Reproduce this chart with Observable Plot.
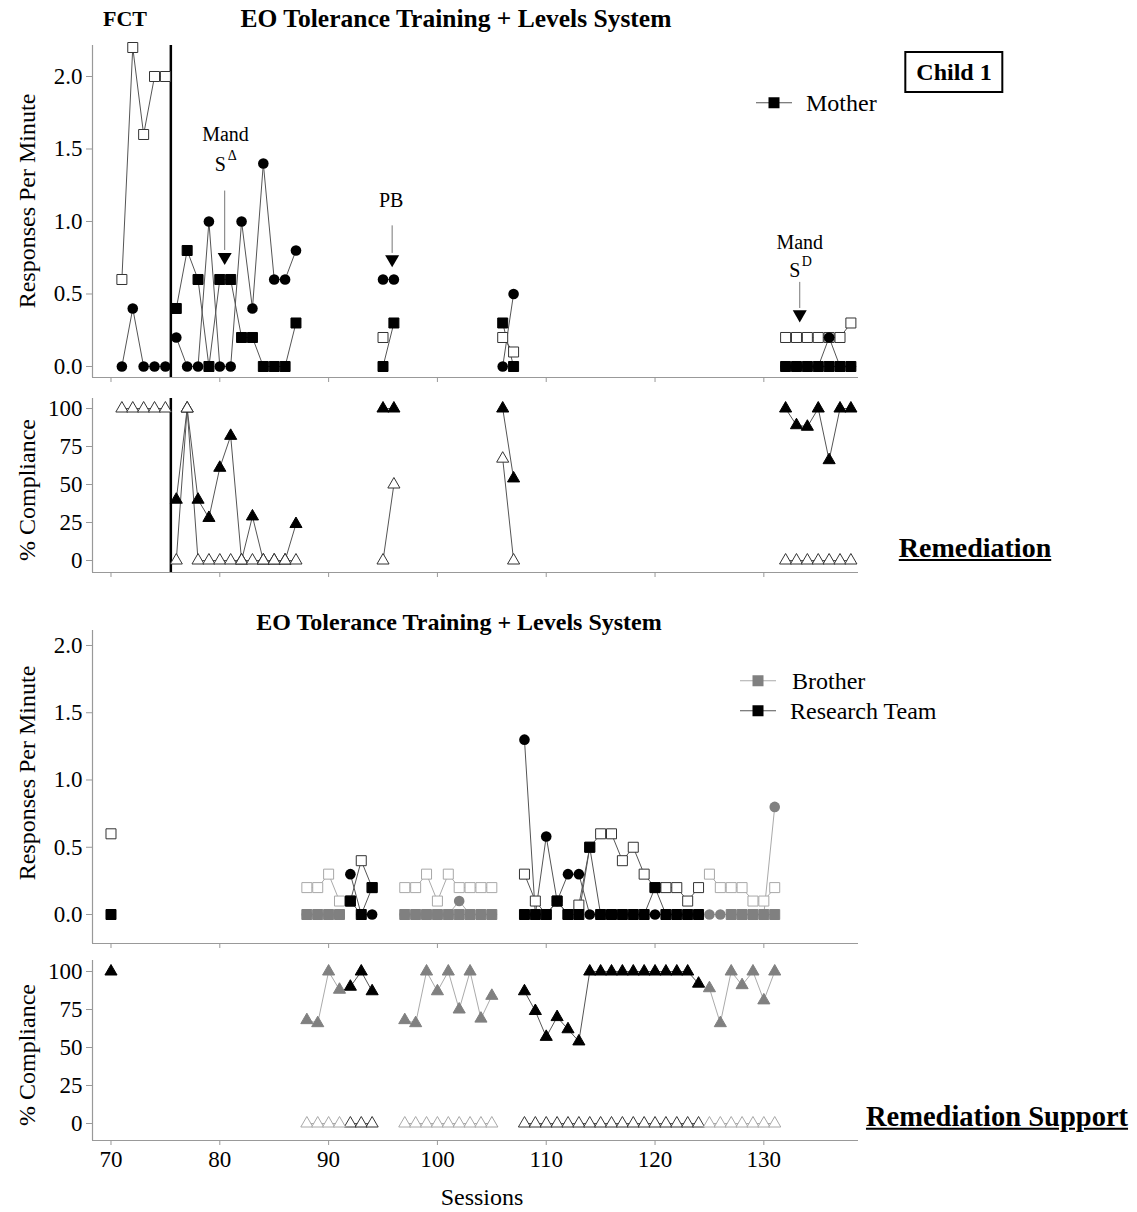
<!DOCTYPE html>
<html><head><meta charset="utf-8">
<script src="https://cdn.jsdelivr.net/npm/d3@7"></script>
<script src="https://cdn.jsdelivr.net/npm/@observablehq/plot@0.6"></script>
<style>
body{margin:0;background:#fff;}
#root{position:relative;width:1137px;height:1212px;overflow:hidden;font-family:"Liberation Serif","Times New Roman",serif;color:#000;background:#fff;}
.lbl{position:absolute;white-space:nowrap;line-height:1;}
.panel{position:absolute;left:0;}
</style></head><body><div id="root"></div>
<script>
// ---------------- DATA ----------------
const sessionTicks = [70, 80, 90, 100, 110, 120, 130];
const rateTicks = [0, 0.5, 1, 1.5, 2];
const complianceTicks = [0, 25, 50, 75, 100];

// Child 1 with Mother: FCT baseline
const fctSessions = [71, 72, 73, 74, 75];
const fctOpenSquares = [0.6, 2.2, 1.6, 2.0, 2.0];
const fctCircles = [0, 0.4, 0, 0, 0];
const fctOpenTriangles = [100, 100, 100, 100, 100];

// Child 1 with Mother: EO tolerance training blocks
const motherBlockStarts = [76, 95, 106, 132];
const motherFilledSquares = [[0.4, 0.8, 0.6, 0, 0.6, 0.6, 0.2, 0.2, 0, 0, 0, 0.3], [0, 0.3], [0.3, 0], [0, 0, 0, 0, 0, 0, 0]];
const motherCircles = [[0.2, 0, 0, 1.0, 0, 0, 1.0, 0.4, 1.4, 0.6, 0.6, 0.8], [0.6, 0.6], [0, 0.5], [0, 0, 0, 0, 0.2, 0, 0]];
const motherOpenSquares = [[], [0.2], [0.2, 0.1], [0.2, 0.2, 0.2, 0.2, 0.2, 0.2, 0.3]];
const motherFilledTriangles = [[40, 100, 40, 28, 61, 82, 0, 29, 0, 0, 0, 24], [100, 100], [100, 54], [100, 89, 88, 100, 66, 100, 100]];
const motherOpenTriangles = [[0, 100, 0, 0, 0, 0, 0, 0, 0, 0, 0, 0], [0, 50], [67, 0], [0, 0, 0, 0, 0, 0, 0]];

// Remediation support: Brother / Research Team
const supportBlockStarts = [70, 88, 92, 97, 108, 125];
const supportBlockAgent = ["Research Team", "Brother", "Research Team", "Brother", "Research Team", "Brother"];
const supportFilledSquares = [[0], [0, 0, 0, 0], [0.1, 0, 0.2], [0, 0, 0, 0, 0, 0, 0, 0, 0],
  [0, 0, 0, 0.1, 0, 0, 0.5, 0, 0, 0, 0, 0, 0.2, 0, 0, 0, 0], [null, null, 0, 0, 0, 0, 0]];
const supportCircles = [[], [0, 0, 0, 0], [0.3, 0, 0], [0, 0, 0, 0, 0, 0.1, 0, 0, 0],
  [1.3, 0, 0.58, 0.1, 0.3, 0.3, 0, 0, 0, 0, 0, 0, 0, 0, 0, 0, 0], [0, 0, 0, 0, 0, 0, 0.8]];
const supportOpenSquares = [[0.6], [0.2, 0.2, 0.3, 0.1], [0.1, 0.4, 0.2], [0.2, 0.2, 0.3, 0.1, 0.3, 0.2, 0.2, 0.2, 0.2],
  [0.3, 0.1, 0, 0.1, 0, 0.07, 0.5, 0.6, 0.6, 0.4, 0.5, 0.3, 0.2, 0.2, 0.2, 0.1, 0.2], [0.3, 0.2, 0.2, 0.2, 0.1, 0.1, 0.2]];
const supportFilledTriangles = [[100], [68, 66, 100, 88], [90, 100, 87], [68, 66, 100, 87, 100, 75, 100, 69, 84],
  [87, 74, 57, 70, 62, 54, 100, 100, 100, 100, 100, 100, 100, 100, 100, 100, 92], [89, 66, 100, 91, 100, 81, 100]];
const supportOpenTriangles = [[], [0, 0, 0, 0], [0, 0, 0], [0, 0, 0, 0, 0, 0, 0, 0, 0],
  [0, 0, 0, 0, 0, 0, 0, 0, 0, 0, 0, 0, 0, 0, 0, 0, 0], [0, 0, 0, 0, 0, 0, 0]];

// ---------------- HELPERS ----------------
function fromBlocks(starts, blocks, agents) {
  const out = [];
  blocks.forEach((vals, b) => vals.forEach((v, i) => out.push({s: starts[b] + i, v, block: b, agent: agents ? agents[b] : "Mother"})));
  return out;
}
const fromList = (sessions, vals) => sessions.map((s, i) => ({s, v: vals[i], block: -1, agent: "Mother"}));

const FONT = "Liberation Serif, Times New Roman, serif";
const XDOM = [68.3, 138.7];
const ML = 92, MR = 1137 - 858;
const SQ = 5.64, CI = 5.3, TR = 4.5;
const COL = {
  "Mother": {fill: "#000", open: "#333", line: "#555"},
  "Research Team": {fill: "#000", open: "#333", line: "#555"},
  "Brother": {fill: "#808080", open: "#a8a8a8", line: "#aaa"}
};

const root = document.getElementById("root");

function panel({top, height, mt, mb, ydom, yticks, yfmt, xlabels, marks}) {
  const chart = Plot.plot({
    width: 1137, height,
    marginLeft: ML, marginRight: MR, marginTop: mt, marginBottom: mb,
    x: {domain: XDOM},
    y: {domain: ydom},
    style: {background: "transparent", fontFamily: FONT, fontSize: "23px", overflow: "visible"},
    marks: [
      Plot.ruleX([XDOM[0]], {stroke: "#999", strokeWidth: 1.2}),
      Plot.ruleY([ydom[0]], {stroke: "#999", strokeWidth: 1.2}),
      Plot.axisY({ticks: yticks, tickFormat: yfmt, tickSize: 6, tickPadding: 4, stroke: "#999", label: null, fontSize: 23}),
      Plot.axisX({ticks: sessionTicks, tickFormat: xlabels ? (d => String(d)) : (() => ""), tickSize: 5, tickPadding: 5, stroke: "#999", label: null, fontSize: 23}),
      ...marks
    ]
  });
  chart.classList.add("panel");
  chart.style.top = top + "px";
  root.appendChild(chart);
  return chart;
}

function seriesLines(data) {
  const out = [];
  for (const agent of Object.keys(COL)) {
    const d = data.filter(p => p.agent === agent);
    if (d.length) out.push(Plot.line(d, {x: "s", y: "v", z: "block", stroke: COL[agent].line, strokeWidth: 1}));
  }
  return out;
}
function seriesDots(data, symbol, r, filled) {
  const out = [];
  for (const agent of Object.keys(COL)) {
    const d = data.filter(p => p.agent === agent && p.v != null);
    if (!d.length) continue;
    out.push(Plot.dot(d, {x: "s", y: "v", symbol, r,
      fill: filled ? COL[agent].fill : "white",
      stroke: filled ? COL[agent].fill : COL[agent].open,
      strokeWidth: filled ? (symbol === "circle" ? 0 : 1) : 1}));
  }
  return out;
}

// ---------------- PANEL 1 : Mother rate ----------------
const p1Open = [...fromList(fctSessions, fctOpenSquares), ...fromBlocks(motherBlockStarts, motherOpenSquares)];
const p1Circ = [...fromList(fctSessions, fctCircles), ...fromBlocks(motherBlockStarts, motherCircles)];
const p1Fill = fromBlocks(motherBlockStarts, motherFilledSquares);
const annot = (s, v, t, o = {}) => Plot.text([{s, v, t}], {x: "s", y: "v", text: "t", fontSize: 20, fontFamily: FONT, ...o});
const arrow = (s, vTop, vBot, vHead) => [
  Plot.ruleX([{s}], {x: "s", y1: vTop, y2: vBot, stroke: "#777", strokeWidth: 1}),
  Plot.dot([{s, v: vHead}], {x: "s", y: "v", symbol: "triangle", rotate: 180, r: 5.2, fill: "#000"})
];
panel({top: 0, height: 392, mt: 45, mb: 15, ydom: [-0.0759, 2.2138], yticks: rateTicks, yfmt: d3.format(".1f"), xlabels: false,
  marks: [
    Plot.ruleX([75.5], {stroke: "#000", strokeWidth: 2.5}),
    ...seriesLines(p1Open), ...seriesLines(p1Circ), ...seriesLines(p1Fill),
    ...seriesDots(p1Open, "square", SQ, false),
    ...seriesDots(p1Circ, "circle", CI, true),
    ...seriesDots(p1Fill, "square", SQ, true),
    annot(80.52, 1.60, "Mand"), annot(80.05, 1.39, "S"), annot(80.05, 1.39, "Δ", {fontSize: 14, dx: 12, dy: -9}),
    ...arrow(80.45, 1.21, 0.8, 0.755),
    annot(95.75, 1.145, "PB"),
    ...arrow(95.84, 0.97, 0.78, 0.74),
    annot(133.3, 0.857, "Mand"), annot(132.85, 0.66, "S"), annot(132.85, 0.66, "D", {fontSize: 14, dx: 12, dy: -9}),
    ...arrow(133.3, 0.58, 0.4, 0.36)
  ]});

// ---------------- PANEL 2 : Mother compliance ----------------
const p2Open = [...fromList(fctSessions, fctOpenTriangles), ...fromBlocks(motherBlockStarts, motherOpenTriangles)];
const p2Fill = fromBlocks(motherBlockStarts, motherFilledTriangles);
panel({top: 392, height: 200, mt: 6, mb: 20, ydom: [-7.89, 106.58], yticks: complianceTicks, yfmt: d3.format("d"), xlabels: false,
  marks: [
    Plot.ruleX([75.5], {stroke: "#000", strokeWidth: 2.5}),
    ...seriesLines(p2Fill), ...seriesLines(p2Open),
    ...seriesDots(p2Fill, "triangle", TR, true),
    ...seriesDots(p2Open, "triangle", TR, false)
  ]});

// ---------------- PANEL 3 : Support rate ----------------
const p3Open = fromBlocks(supportBlockStarts, supportOpenSquares, supportBlockAgent);
const p3Circ = fromBlocks(supportBlockStarts, supportCircles, supportBlockAgent);
const p3Fill = fromBlocks(supportBlockStarts, supportFilledSquares, supportBlockAgent);
panel({top: 592, height: 360, mt: 38, mb: 9, ydom: [-0.2156, 2.1115], yticks: rateTicks, yfmt: d3.format(".1f"), xlabels: false,
  marks: [
    ...seriesLines(p3Open), ...seriesLines(p3Circ), ...seriesLines(p3Fill),
    ...seriesDots(p3Open, "square", SQ, false),
    ...seriesDots(p3Circ, "circle", CI, true),
    ...seriesDots(p3Fill, "square", SQ, true)
  ]});

// ---------------- PANEL 4 : Support compliance ----------------
const p4Open = fromBlocks(supportBlockStarts, supportOpenTriangles, supportBlockAgent);
const p4Fill = fromBlocks(supportBlockStarts, supportFilledTriangles, supportBlockAgent);
panel({top: 952, height: 260, mt: 8, mb: 72, ydom: [-11.18, 107.24], yticks: complianceTicks, yfmt: d3.format("d"), xlabels: true,
  marks: [
    ...seriesLines(p4Fill), ...seriesLines(p4Open),
    ...seriesDots(p4Fill, "triangle", TR, true),
    ...seriesDots(p4Open, "triangle", TR, false)
  ]});

// ---------------- TEXT ----------------
function label(html, x, y, css = "", anchor = "middle") {
  const d = document.createElement("div");
  d.className = "lbl";
  d.innerHTML = html;
  d.style.left = x + "px";
  d.style.top = y + "px";
  const tx = anchor === "start" ? "0" : anchor === "end" ? "-100%" : "-50%";
  d.style.transform = `translate(${tx},-50%)`;
  d.style.cssText += css;
  root.appendChild(d);
  return d;
}
function vlabel(text, x, y) {
  const d = label(text, x, y, "font-size:24px;");
  d.style.transform = "translate(-50%,-50%) rotate(-90deg)";
}
label("FCT", 103, 19, "font-size:22px;font-weight:bold;", "start");
label("EO Tolerance Training + Levels System", 456, 19, "font-size:25.5px;font-weight:bold;");
label("EO Tolerance Training + Levels System", 459, 622, "font-size:24px;font-weight:bold;");
label("Child 1", 954, 72, "font-size:24px;font-weight:bold;border:2px solid #000;padding:7px 10px;");
label("Remediation", 975, 548, "font-size:28px;font-weight:bold;text-decoration:underline;");
label("Remediation Support", 997, 1117, "font-size:28.5px;font-weight:bold;text-decoration:underline;");
label("Sessions", 482, 1197, "font-size:24px;");
vlabel("Responses Per Minute", 27, 201);
vlabel("% Compliance", 27, 490);
vlabel("Responses Per Minute", 27, 773);
vlabel("% Compliance", 27, 1055);

function legendItem(text, x, y, fill, line, gap) {
  const sw = `<svg width="36" height="14" style="vertical-align:middle;overflow:visible"><line x1="0" x2="36" y1="7" y2="7" stroke="${line}" stroke-width="1"/><rect x="12.5" y="1.5" width="11" height="11" fill="${fill}"/></svg>`;
  label(`${sw}<span style="margin-left:${gap}px;vertical-align:middle">${text}</span>`, x, y, "font-size:24px;", "start");
}
legendItem("Mother", 756, 102, "#000", "#555", 14);
legendItem("Brother", 740, 680, "#808080", "#aaa", 16);
legendItem("Research Team", 740, 710, "#000", "#555", 14);
</script></body></html>
